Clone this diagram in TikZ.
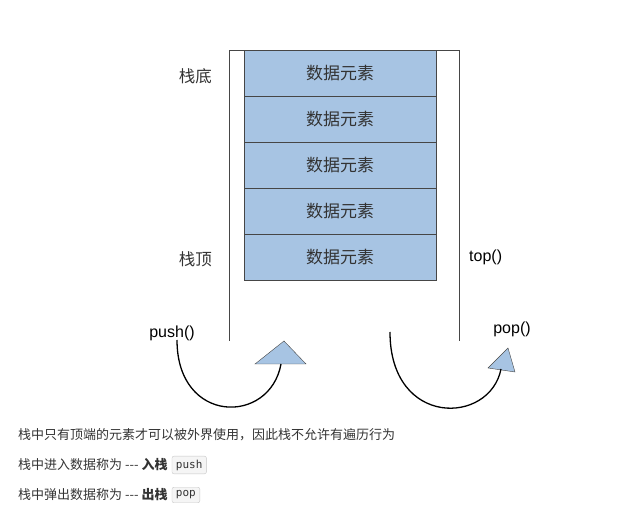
\documentclass[tikz,border=0pt]{standalone}
\usepackage{fontspec}
\setmainfont{Liberation Sans}
\newfontfamily\cjk{Noto Sans CJK SC}
\newfontfamily\codefont{DejaVu Sans Mono}
\usepackage{tikz}
\usetikzlibrary{positioning}

\definecolor{cellBlue}{RGB}{167,196,227}
\definecolor{lineGray}{RGB}{70,70,70}
\definecolor{textGray}{RGB}{51,51,51}

\begin{document}
\begin{tikzpicture}[
  x=1pt, y=-1pt,
  cell/.style={draw=lineGray, fill=cellBlue, minimum width=192pt, minimum height=46pt, inner sep=0pt, outer sep=0pt, font=\cjk\fontsize{17}{19}\selectfont, text=textGray},
  side/.style={font=\cjk\fontsize{16.5}{18}\selectfont, text=textGray, inner sep=0pt},
  call/.style={font=\fontsize{16}{18}\selectfont, text=black, inner sep=0pt},
  note/.style={font=\cjk\fontsize{13}{15}\selectfont, text=textGray, inner sep=0pt, anchor=west},
  code/.style={draw=gray!45, fill=gray!8, rounded corners=2pt, font=\codefont\fontsize{11}{13}\selectfont, text=textGray, inner xsep=4pt, inner ysep=3.5pt},
  swing/.style={line width=1.3pt, black},
  tip/.style={draw=lineGray, fill=cellBlue}
]
\useasboundingbox (0,0) rectangle (622,518);

% stack frame
\draw[lineGray, line width=0.9pt] (229,341) -- (229,50) -- (459,50) -- (459,341);

\node[cell, anchor=north] (cellOne) at (340,50) {数据元素};
\node[cell, below=0pt of cellOne] (cellTwo) {数据元素};
\node[cell, below=0pt of cellTwo] (cellThree) {数据元素};
\node[cell, below=0pt of cellThree] (cellFour) {数据元素};
\node[cell, below=0pt of cellFour] (cellFive) {数据元素};

\node[side, left=32pt of cellOne, yshift=-3pt] (bottomLbl) {栈底};
\node[side, left=32pt of cellFive, yshift=-2pt] (topLbl) {栈顶};
\node[call, right=33pt of cellFive] (topCall) {top()};

\node[call] (pushCall) at (172,333) {push()};
\node[call] (popCall) at (512,329) {pop()};

% arrow heads
\coordinate (pushFrom) at (177,340);
\coordinate (pushTip) at (281,364);
\coordinate (popFrom) at (390,332);
\coordinate (popTip) at (501,369);
\draw[tip] (255,364) -- (284,341) -- (306,364) -- cycle;
\draw[tip] (488,368) -- (508,348) -- (515,372) -- cycle;

\draw[swing] (pushFrom) .. controls (177,425) and (270,425) .. (pushTip);
\draw[swing] (popFrom) .. controls (390,428) and (490,425) .. (popTip);

% notes
\node[note] (noteOne) at (18,435) {栈中只有顶端的元素才可以被外界使用，因此栈不允许有遍历行为};
\node[note] (noteTwo) at (18,465) {栈中进入数据称为 --- \textbf{入栈}};
\node[code, right=4pt of noteTwo] (pushCode) {push};
\node[note] (noteThree) at (18,495) {栈中弹出数据称为 --- \textbf{出栈}};
\node[code, right=4pt of noteThree] (popCode) {pop};

\end{tikzpicture}
\end{document}
